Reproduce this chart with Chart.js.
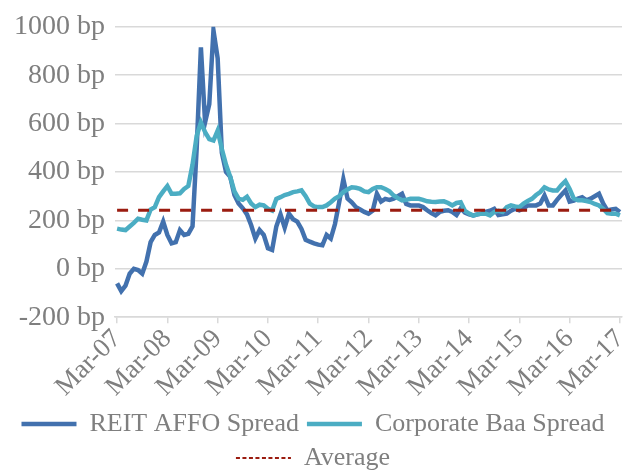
<!DOCTYPE html>
<html>
<head>
<meta charset="utf-8">
<script src="https://cdn.jsdelivr.net/npm/chart.js@4"></script>
<style>
  body { margin: 0; background: #fff; }
  #wrap { width: 628px; height: 470px; overflow: hidden; }
</style>
</head>
<body>
<div id="wrap"><canvas id="spreadChart"></canvas></div>
<script>
const monthNames = ["Jan", "Feb", "Mar", "Apr", "May", "Jun", "Jul", "Aug", "Sep", "Oct", "Nov", "Dec"];

// Mar-07 .. Mar-17, monthly
const categories = [];
for (let k = 0; k <= 120; k++) {
  const m = (2 + k) % 12;
  const yr = 7 + Math.floor((2 + k) / 12);
  categories.push(monthNames[m] + "-" + String(yr).padStart(2, "0"));
}

const reitSpread = [
  -60, -92, -70, -20, 0, -5, -20, 30, 110, 140, 150, 195,
  140, 105, 110, 160, 140, 145, 175, 500, 915, 605, 680, 985,
  870, 480, 400, 380, 305, 270, 250, 225, 180, 125, 160, 140,
  85, 78, 175, 225, 170, 228, 205, 195, 165, 120, 112, 105,
  100, 97, 140, 125, 185, 275, 370, 290, 275, 255, 245, 235,
  228, 240, 310, 278, 289, 285, 290, 300, 310, 268, 262, 262,
  262, 255, 242, 230, 221, 235, 240, 242, 235, 222, 250, 232,
  225, 221, 225, 228, 235, 240, 248, 222, 225, 228, 240, 248,
  242, 250, 262, 262, 262, 270, 303, 262, 262, 285, 305, 324,
  278, 282, 290, 296, 283, 290, 300, 310, 270, 241, 245, 248,
  235,
];

const baaSpread = [
  166, 162, 160, 175, 190, 207, 203, 200, 245, 255, 296, 320,
  342, 310, 310, 312, 330, 342, 430, 550, 605, 565, 536, 530,
  571, 495, 430, 380, 320, 290, 285, 298, 270, 255, 265, 262,
  248, 241, 289, 296, 305, 310, 317, 320, 324, 300, 269, 258,
  255, 255, 262, 275, 290, 300, 317, 328, 337, 335, 330, 320,
  317, 330, 337, 337, 330, 320, 303, 292, 283, 285, 289, 289,
  289, 285, 279, 277, 276, 278, 279, 272, 262, 272, 275, 240,
  228, 220, 225, 228, 228, 221, 235, 240, 235, 255, 262, 258,
  255, 270, 280, 289, 305, 317, 337, 328, 324, 324, 345, 362,
  330, 290, 283, 283, 280, 276, 268, 262, 248, 230, 228, 228,
  221,
];

const averageSpread = 242;

const yTicks = [-200, 0, 200, 400, 600, 800, 1000];

const textColor = "#7f7f7f";
const gridColor = "#d9d9d9";

Chart.defaults.font.family = "'Liberation Serif', 'Times New Roman', serif";
Chart.defaults.color = textColor;

const ctx = document.getElementById("spreadChart").getContext("2d");
new Chart(ctx, {
  type: "line",
  data: {
    labels: categories,
    datasets: [
      {
        label: "REIT AFFO Spread",
        data: reitSpread,
        borderColor: "#4271ae",
        backgroundColor: "#4271ae",
        borderWidth: 4.5,
        pointRadius: 0,
        tension: 0,
        order: 3,
      },
      {
        label: "Corporate Baa Spread",
        data: baaSpread,
        borderColor: "#4badc3",
        backgroundColor: "#4badc3",
        borderWidth: 4.5,
        pointRadius: 0,
        tension: 0,
        order: 2,
      },
      {
        label: "Average",
        data: [
          { x: categories[0], y: averageSpread },
          { x: categories[categories.length - 1], y: averageSpread },
        ],
        borderColor: "#9b1c10",
        backgroundColor: "#9b1c10",
        borderWidth: 3,
        borderDash: [11, 10],
        pointRadius: 0,
        order: 1,
      },
    ],
  },
  options: {
    responsive: true,
    maintainAspectRatio: false,
    animation: false,
    layout: { padding: { left: 4, right: 6, top: 6, bottom: -11 } },
    scales: {
      x: {
        offset: true,
        afterFit: (scale) => {
          scale.paddingRight = 0;
        },
        ticks: {
          autoSkip: false,
          minRotation: 45,
          maxRotation: 45,
          padding: 0,
          font: { size: 27 },
          callback: function (value, index) {
            return index % 12 === 0 ? this.getLabelForValue(value) : "";
          },
        },
        grid: {
          drawOnChartArea: false,
          drawTicks: true,
          tickLength: 6,
          lineWidth: 1.5,
          color: (c) => (c.index % 12 === 0 ? gridColor : "rgba(0,0,0,0)"),
        },
        border: { color: gridColor, width: 1.5 },
      },
      y: {
        min: -200,
        max: 1000,
        afterBuildTicks: (axis) => {
          axis.ticks = yTicks.map((v) => ({ value: v }));
        },
        ticks: {
          padding: 10,
          font: { size: 28 },
          callback: (v) => v + " bp",
        },
        grid: { color: gridColor, lineWidth: 1.5, drawTicks: false },
        border: { display: false },
      },
    },
    plugins: {
      legend: {
        position: "bottom",
        labels: {
          usePointStyle: true,
          pointStyle: "line",
          pointStyleWidth: 55,
          padding: 8,
          font: { size: 26 },
          sort: (a, b) => a.datasetIndex - b.datasetIndex,
          generateLabels: function (chart) {
            const items = Chart.defaults.plugins.legend.labels.generateLabels(chart);
            items.forEach((it) => {
              it.pointStyle = "line";
              if (it.datasetIndex === 2) {
                it.lineWidth = 2;
                it.lineDash = [4, 2.5];
              }
            });
            return items;
          },
        },
      },
      tooltip: { enabled: false },
    },
  },
});
</script>
</body>
</html>
